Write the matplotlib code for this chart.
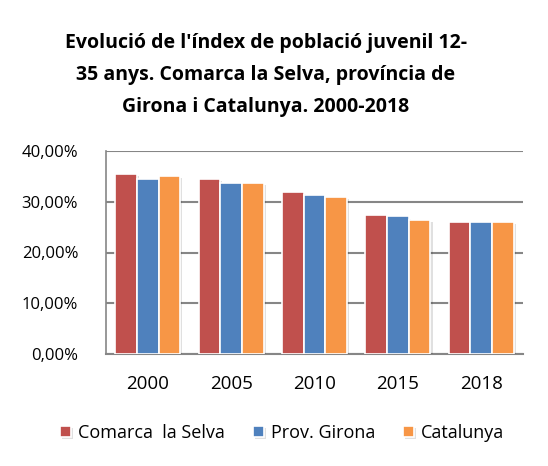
import numpy as np
import matplotlib.pyplot as plt
import matplotlib.patheffects as pe

years = ['2000', '2005', '2010', '2015', '2018']
selva = [35.4, 34.5, 32.0, 27.3, 26.0]
girona = [34.4, 33.6, 31.4, 27.1, 26.1]
catalunya = [35.1, 33.7, 30.9, 26.5, 26.1]
series = ['Comarca  la Selva', 'Prov. Girona', 'Catalunya']
colors = ['#C0504D', '#4F81BD', '#F79646']

plt.rcParams['font.family'] = ['Open Sans', 'DejaVu Sans']

fig = plt.figure(figsize=(5.48, 4.66), dpi=100)
ax = fig.add_axes([106 / 548, 1 - 354 / 466, (523 - 106) / 548, (354 - 151) / 466])

x = np.arange(len(years))
w = 0.26
shadow = [pe.SimplePatchShadow(offset=(1.5, -1.5), shadow_rgbFace='#000000', alpha=0.12), pe.Normal()]
for i, (vals, name, c) in enumerate(zip([selva, girona, catalunya], series, colors)):
    bars = ax.bar(x + (i - 1) * w, vals, w, color=c, edgecolor='white', linewidth=1.2, label=name, zorder=3)
    for b in bars:
        b.set_path_effects(shadow)

ax.set_ylim(0, 40)
ax.set_xlim(-0.5, 4.5)
ax.set_yticks([0, 10, 20, 30, 40])
ax.set_yticklabels(['0,00%', '10,00%', '20,00%', '30,00%', '40,00%'], fontsize=12)
ax.set_xticks(x)
ax.set_xticklabels(years, fontsize=13.5)
ax.tick_params(axis='x', length=0, pad=15)
ax.tick_params(axis='y', length=0, pad=20)
ax.grid(axis='y', color='#868686', linewidth=1.5, zorder=0)
for s in ['top', 'right']:
    ax.spines[s].set_visible(False)
ax.spines['left'].set_color('#868686')
ax.spines['bottom'].set_color('#868686')
ax.spines['left'].set_linewidth(1.2)
ax.spines['bottom'].set_linewidth(1.5)

fig.text(0.485, 1 - 75 / 466, "Evolució de l'índex de població juvenil 12-\n35 anys. Comarca la Selva, província de\nGirona i Catalunya. 2000-2018",
         ha='center', va='center', fontsize=14, fontweight='bold', linespacing=1.78)

fig.legend(loc='center', bbox_to_anchor=(0.515, 1 - 433 / 466), ncol=3, frameon=False,
           fontsize=13, handlelength=0.6, handleheight=0.6, handletextpad=0.4, columnspacing=1.55)

fig.savefig('out.png', dpi=100)
